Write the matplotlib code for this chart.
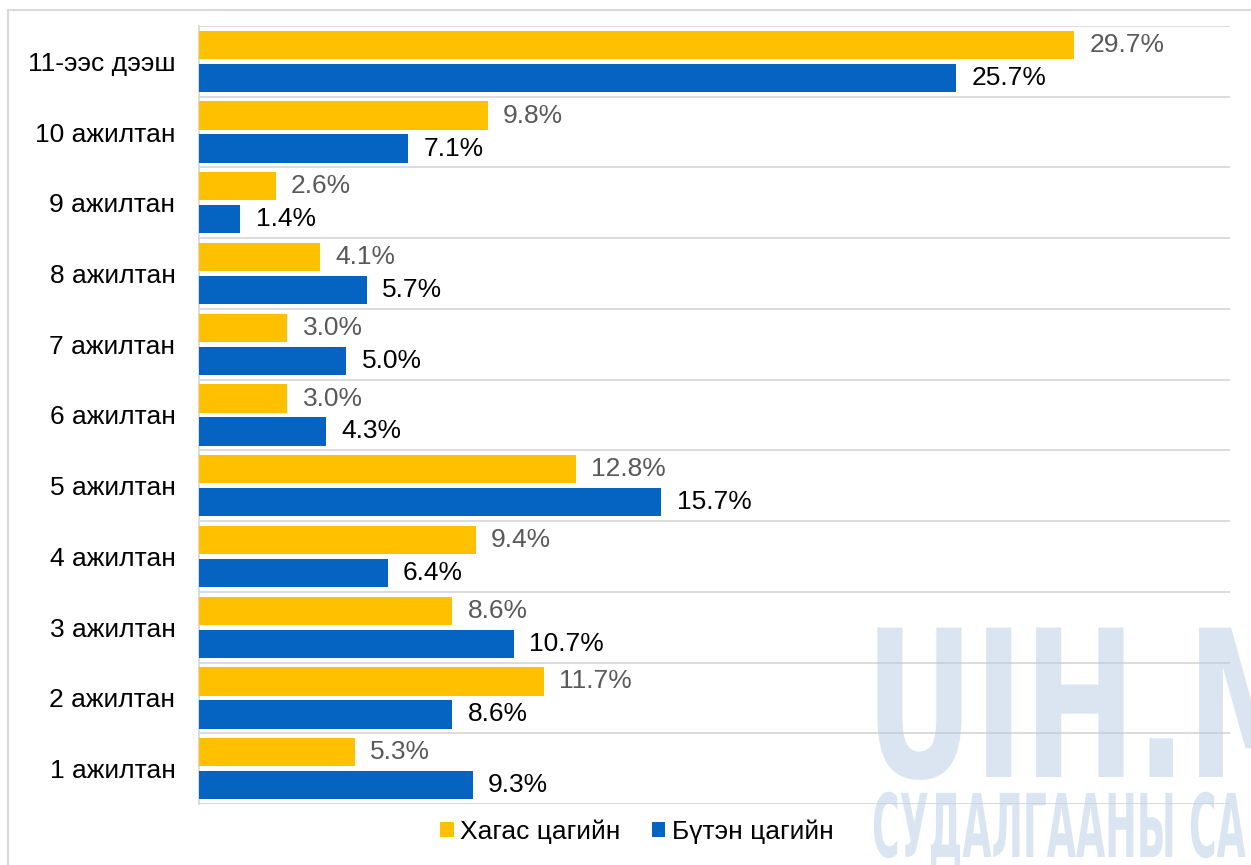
import numpy as np
import matplotlib.pyplot as plt
from matplotlib.patches import Rectangle, PathPatch
from matplotlib.textpath import TextPath
from matplotlib.font_manager import FontProperties
from matplotlib.transforms import Affine2D

plt.rcParams['font.family'] = ['Liberation Sans', 'DejaVu Sans']

categories = ['1 ажилтан', '2 ажилтан', '3 ажилтан', '4 ажилтан', '5 ажилтан',
              '6 ажилтан', '7 ажилтан', '8 ажилтан', '9 ажилтан', '10 ажилтан',
              '11-ээс дээш']
half_time = [5.3, 11.7, 8.6, 9.4, 12.8, 3.0, 3.0, 4.1, 2.6, 9.8, 29.7]
full_time = [9.3, 8.6, 10.7, 6.4, 15.7, 4.3, 5.0, 5.7, 1.4, 7.1, 25.7]
series_names = ['Хагас цагийн', 'Бүтэн цагийн']

yellow = '#FFC000'
blue = '#0563C1'

fig = plt.figure(figsize=(12.51, 8.65), dpi=100)
W, H = 1251, 865

# outer frame (only top and left edges fall inside the picture)
fig.patches.append(Rectangle((8 / W, -0.5), 1.5, 0.5 + 1 - 10 / H, transform=fig.transFigure,
                             fill=False, edgecolor='#d9d9d9', lw=1.5, zorder=0))

ax = fig.add_axes([199 / W, 1 - 804 / H, (1230 - 199) / W, (804 - 26) / H])

y = np.arange(len(categories))
off = 0.233
h = 0.40
ax.barh(y + off, half_time, height=h, color=yellow, label=series_names[0], zorder=3)
ax.barh(y - off, full_time, height=h, color=blue, label=series_names[1], zorder=3)

for yi, v in zip(y, half_time):
    ax.annotate(f'{v:.1f}%', (v, yi + off), xytext=(11, 0), textcoords='offset points',
                va='center', ha='left', fontsize=19, color='#595959')
for yi, v in zip(y, full_time):
    ax.annotate(f'{v:.1f}%', (v, yi - off), xytext=(11, 0), textcoords='offset points',
                va='center', ha='left', fontsize=19, color='black')

ax.set_xlim(0, 35)
ax.set_ylim(-0.5, len(categories) - 0.5)
ax.set_yticks(y)
ax.set_yticklabels(categories, fontsize=19)
ax.set_yticks(np.arange(-0.5, len(categories), 1), minor=True)
ax.tick_params(axis='y', which='both', length=0, pad=17)
ax.tick_params(axis='y', which='minor', labelleft=False)
ax.set_xticks([])
ax.grid(axis='y', which='minor', color='#d9d9d9', lw=1.3, zorder=0)
for s in ['top', 'right', 'bottom']:
    ax.spines[s].set_visible(False)
ax.spines['left'].set_color('#d9d9d9')
ax.spines['left'].set_linewidth(1.3)

fig.legend(loc='center', bbox_to_anchor=(637 / W, 1 - 832 / H), ncol=2, frameon=False,
           fontsize=19, handlelength=0.5, handleheight=0.5, handletextpad=0.25,
           columnspacing=1.2)

# watermark
fp = FontProperties(family='DejaVu Sans', weight='bold')
tp = TextPath((0, 0), 'UIH.MN', size=100, prop=fp)
tr = Affine2D().scale(1.34, 2.05).translate(865, H - 777)
fig.patches.append(PathPatch(tr.transform_path(tp), transform=None,
                             facecolor='#b8cce4', edgecolor='none', alpha=0.5, zorder=10))
tp2 = TextPath((0, 0), 'СУДАЛГААНЫ СА', size=100, prop=fp)
tr2 = Affine2D().scale(0.377, 0.88).translate(872, H - 857)
fig.patches.append(PathPatch(tr2.transform_path(tp2), transform=None,
                             facecolor='#b8cce4', edgecolor='none', alpha=0.5, zorder=10))

fig.savefig('out.png', dpi=100)
